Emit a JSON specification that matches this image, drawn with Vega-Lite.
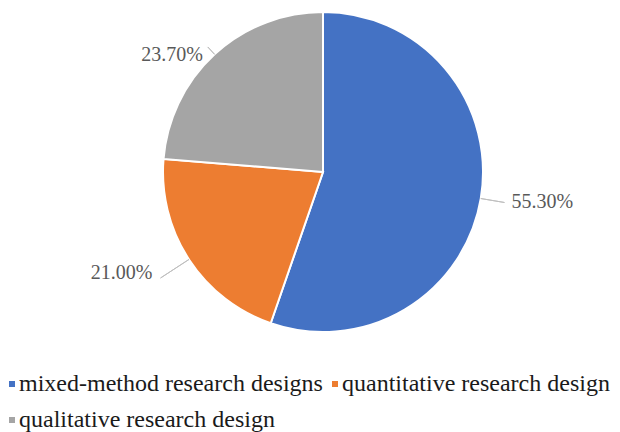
{
  "$schema": "https://vega.github.io/schema/vega-lite/v6.json",
  "description": "Share of research designs, pie with outside percentage labels and leader lines.",
  "width": 594,
  "height": 344,
  "padding": {"left": 26, "top": 0, "right": 0, "bottom": 88},
  "autosize": {"type": "none"},
  "background": "white",
  "data": {
    "values": [
      {"design": "mixed-method research designs", "share": 0.553, "idx": 1},
      {"design": "quantitative research design", "share": 0.21, "idx": 2},
      {"design": "qualitative research design", "share": 0.237, "idx": 3}
    ]
  },
  "layer": [
    {
      "mark": {"type": "arc", "radius": 160, "stroke": "white", "strokeWidth": 2},
      "encoding": {
        "theta": {"field": "share", "type": "quantitative", "stack": true},
        "order": {"field": "idx", "type": "quantitative"},
        "color": {
          "field": "design",
          "type": "nominal",
          "scale": {
            "domain": [
              "mixed-method research designs",
              "quantitative research design",
              "qualitative research design"
            ],
            "range": ["#4472C4", "#ED7D31", "#A5A5A5"]
          },
          "legend": {
            "orient": "none",
            "legendX": -26,
            "legendY": 372,
            "direction": "horizontal",
            "columns": 2,
            "title": null,
            "padding": 0,
            "symbolType": "square",
            "symbolSize": 36,
            "symbolStrokeWidth": 0,
            "labelFont": "Liberation Serif",
            "labelFontSize": 24,
            "labelColor": "#1a1a1a",
            "labelOffset": -5,
            "labelLimit": 0,
            "columnPadding": -1,
            "rowPadding": 12
          }
        }
      }
    },
    {
      "mark": {"type": "text", "radius": 184, "align": "left", "baseline": "middle", "dx": 7, "font": "Liberation Serif", "fontSize": 20, "color": "#595959"},
      "encoding": {
        "theta": {"field": "share", "type": "quantitative", "stack": true},
        "order": {"field": "idx", "type": "quantitative"},
        "text": {
          "condition": {"test": "datum.design === 'mixed-method research designs'", "field": "share", "type": "quantitative", "format": ".2%"},
          "value": ""
        }
      }
    },
    {
      "mark": {"type": "text", "radius": 194, "align": "right", "baseline": "middle", "dx": -8, "dy": -5, "font": "Liberation Serif", "fontSize": 20, "color": "#595959"},
      "encoding": {
        "theta": {"field": "share", "type": "quantitative", "stack": true},
        "order": {"field": "idx", "type": "quantitative"},
        "text": {
          "condition": {"test": "datum.design === 'quantitative research design'", "field": "share", "type": "quantitative", "format": ".2%"},
          "value": ""
        }
      }
    },
    {
      "mark": {"type": "text", "radius": 170, "align": "right", "baseline": "middle", "dx": -5, "dy": 8, "font": "Liberation Serif", "fontSize": 20, "color": "#595959"},
      "encoding": {
        "theta": {"field": "share", "type": "quantitative", "stack": true},
        "order": {"field": "idx", "type": "quantitative"},
        "text": {
          "condition": {"test": "datum.design === 'qualitative research design'", "field": "share", "type": "quantitative", "format": ".2%"},
          "value": ""
        }
      }
    },
    {
      "transform": [
        {"stack": "share", "groupby": [], "sort": [{"field": "idx", "order": "ascending"}], "as": ["before", "upto"]},
        {"fold": ["before", "upto"], "as": ["edge", "edgeValue"]},
        {"aggregate": [{"op": "mean", "field": "edgeValue", "as": "mid"}], "groupby": ["design", "share"]}
      ],
      "layer": [
        {
          "transform": [{"filter": "datum.design === 'mixed-method research designs'"}],
          "mark": {"type": "arc", "radius2": 160, "radius": 184, "stroke": "#BFBFBF", "strokeWidth": 1, "fillOpacity": 0},
          "encoding": {
            "theta": {"field": "mid", "type": "quantitative", "stack": null},
            "theta2": {"field": "mid"}
          }
        },
        {
          "transform": [{"filter": "datum.design === 'quantitative research design'"}],
          "mark": {"type": "arc", "radius2": 160, "radius": 194, "stroke": "#BFBFBF", "strokeWidth": 1, "fillOpacity": 0},
          "encoding": {
            "theta": {"field": "mid", "type": "quantitative", "stack": null},
            "theta2": {"field": "mid"}
          }
        },
        {
          "transform": [{"filter": "datum.design === 'qualitative research design'"}],
          "mark": {"type": "arc", "radius2": 160, "radius": 170, "stroke": "#BFBFBF", "strokeWidth": 1, "fillOpacity": 0},
          "encoding": {
            "theta": {"field": "mid", "type": "quantitative", "stack": null},
            "theta2": {"field": "mid"}
          }
        }
      ]
    }
  ],
  "config": {"view": {"stroke": null}}
}
